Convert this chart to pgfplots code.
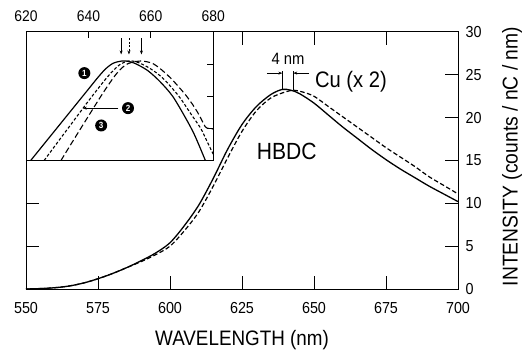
\documentclass[border=0pt]{standalone}
\usepackage{pgfplots}
\pgfplotsset{compat=1.18}
\usepackage{fontspec}
\setmainfont{Liberation Sans}[FakeStretch=0.9]
\usetikzlibrary{arrows.meta}
\newcommand{\fs}[1]{\fontsize{#1}{#1}\selectfont}
\tikzset{cnum/.style={circle, fill=black, text=white, inner sep=0pt, minimum size=12bp, font=\bfseries\fs{9}}}
\begin{document}
\begin{tikzpicture}
\useasboundingbox (-26bp,-66bp) rectangle (506bp,289bp);
\begin{axis}[
  name=main, at={(0,0)}, anchor=south west, scale only axis,
  width=432bp, height=257bp,
  xmin=550, xmax=700, ymin=0, ymax=30,
  xtick={550,575,...,700}, ytick={0,5,...,30},
  yticklabel pos=right, xtick pos=both, ytick pos=both,
  tick align=inside, major tick length=13bp,
  axis line style={line width=1pt},
  tick style={line width=1pt, black},
  /pgf/number format/assume math mode=true,
  ticklabel style={font=\fs{16}},
  xticklabel style={yshift=-10bp},
  yticklabel style={xshift=4bp},
  xlabel={WAVELENGTH (nm)},
  ylabel={INTENSITY (counts / nC / nm)},
  xlabel style={at={(axis description cs:0.5,0)}, anchor=center, yshift=-51bp, font=\fs{21}},
  ylabel style={at={(axis description cs:1,0.5)}, anchor=center, xshift=4bp, yshift=-54bp, font=\fs{21.5}},
]
% HBDC (solid)
\addplot[black, line width=1.3pt, smooth] coordinates {
(550,0.0) (555,0.05) (560,0.15) (565,0.35) (570,0.7) (575,1.2) (580,1.8)
(585,2.5) (590,3.3) (595,4.2) (600,5.4) (605,7.4) (610,9.8) (615,12.9)
(620,16.3) (625,19.2) (630,21.3) (635,22.7) (639,23.3) (642,23.2) (645,22.8)
(650,21.7) (655,20.3) (660,18.9) (665,17.6) (670,16.3) (675,15.1) (680,14.0)
(685,13.0) (690,12.0) (695,11.1) (700,10.2)};
% Cu x2 (dashed)
\addplot[black, line width=1.2pt, smooth, dash pattern=on 4.5bp off 2.5bp] coordinates {
(550,0.0) (555,0.05) (560,0.15) (565,0.35) (570,0.7) (575,1.2) (580,1.8)
(585,2.5) (590,3.2) (595,4.0) (600,5.0) (605,6.8) (610,9.0) (615,12.0)
(620,15.3) (625,18.4) (630,20.8) (635,22.3) (640,23.0) (643,23.2) (646,23.0)
(650,22.5) (655,21.3) (660,20.1) (665,18.9) (670,17.7) (675,16.5) (680,15.4)
(685,14.3) (690,13.1) (695,12.1) (700,11.1)};
% 4 nm annotation
\draw[line width=0.8pt] (axis cs:639.0,23.2) -- (axis cs:639.0,25.5);
\draw[line width=0.8pt] (axis cs:642.8,23.2) -- (axis cs:642.8,25.5);
\draw[line width=0.7pt, -{Stealth[length=4bp,width=3bp]}] (axis cs:633.6,25.2) -- (axis cs:639.0,25.2);
\draw[line width=0.7pt, -{Stealth[length=4bp,width=3bp]}] (axis cs:648.3,25.2) -- (axis cs:642.8,25.2);
\node[font=\fs{16.5}] at (axis cs:641,26.9) {4 nm};
\node[font=\fs{22.5}, anchor=west, inner sep=0pt] at (axis cs:650.3,24.15) {Cu (x 2)};
\node[font=\fs{23.5}] at (axis cs:640.5,16.1) {HBDC};
\end{axis}
\begin{axis}[
  at={(0,257bp)}, anchor=north west, scale only axis,
  width=187.2bp, height=128.5bp,
  xmin=620, xmax=680, ymin=0, ymax=4,
  xtick={620,640,660,680}, xtick pos=right, xticklabel pos=right,
  ytick={1,2,3}, ytick pos=right, yticklabels={},
  tick align=inside, major tick length=6bp,
  axis line style={line width=1pt},
  tick style={line width=1pt, black},
  axis background/.style={fill=white},
  /pgf/number format/assume math mode=true,
  ticklabel style={font=\fs{15.5}},
  xticklabel style={yshift=7bp},
]
% 1 solid
\addplot[black, line width=1.2pt, smooth] coordinates {
(621.5,0) (625,0.42) (630,1.02) (635,1.62) (640,2.22) (643,2.58) (645.5,2.85)
(648,3.03) (651,3.1) (653,3.08) (655,3.02) (659,2.8) (663,2.45) (667,2.0)
(671,1.35) (674,0.8) (677.5,0)};
% 2 short dash
\addplot[black, line width=1.1pt, smooth, dash pattern=on 3bp off 2bp] coordinates {
(625.8,0) (630,0.55) (635,1.2) (640,1.85) (644,2.35) (647,2.7) (650,2.98)
(653,3.1) (656,3.05) (660,2.85) (664,2.55) (669,2.0) (672.5,1.5) (676,1.0)
(678,0.6) (680,0.2)};
% 3 long dash
\addplot[black, line width=1.1pt, smooth, dash pattern=on 6bp off 3bp] coordinates {
(631.2,0) (635,0.6) (640,1.38) (645,2.15) (649,2.7) (652,2.98) (655,3.08)
(657,3.1) (661,3.0) (666,2.6) (671.5,2.0) (675,1.5) (677.4,1.06) (678.5,1.0) (680,0.98)};
\draw[line width=0.8pt, -{Stealth[length=4bp,width=3bp]}] (axis cs:650.5,3.80) -- (axis cs:650.5,3.30);
\draw[line width=0.8pt, dash pattern=on 2bp off 1.5bp, -{Stealth[length=4bp,width=3bp]}] (axis cs:653,3.80) -- (axis cs:653,3.30);
\draw[line width=0.8pt, -{Stealth[length=4bp,width=3bp]}] (axis cs:657,3.80) -- (axis cs:657,3.30);
\draw[line width=0.9pt, -{Stealth[length=4bp,width=3bp]}] (axis cs:649.6,1.63) -- (axis cs:638.2,1.63);
\node[cnum] at (axis cs:638.7,2.72) {1};
\node[cnum] at (axis cs:652.7,1.63) {2};
\node[cnum] at (axis cs:644.1,1.09) {3};
\end{axis}
\end{tikzpicture}
\end{document}
